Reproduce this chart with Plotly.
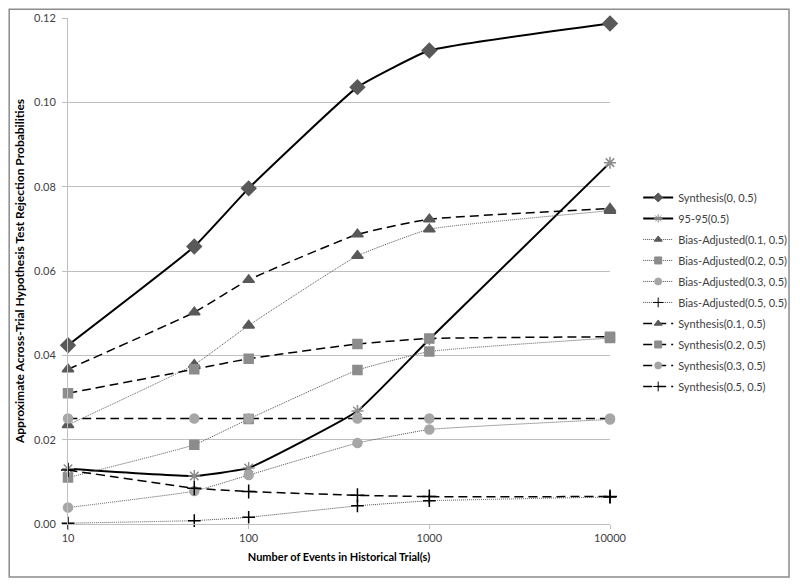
"""Rejection probabilities vs historical trial size."""

import plotly.graph_objects as go

x_events = [10, 50, 100, 400, 1000, 10000]

synthesis_0 = [0.0424, 0.0658, 0.0796, 0.1036, 0.1123, 0.1187]
ninety_five = [0.0131, 0.0114, 0.0133, 0.0268, 0.0438, 0.0857]
bias_01 = [0.0235, 0.0378, 0.0471, 0.0636, 0.0699, 0.0743]
bias_02 = [0.0110, 0.0188, 0.0249, 0.0365, 0.0409, 0.0441]
bias_03 = [0.0039, 0.0078, 0.0116, 0.0192, 0.0224, 0.0248]
bias_05 = [0.0002, 0.0008, 0.0016, 0.0043, 0.0055, 0.0064]
synth_01 = [0.0367, 0.0502, 0.0579, 0.0687, 0.0723, 0.0748]
synth_02 = [0.0310, 0.0367, 0.0392, 0.0427, 0.0440, 0.0444]
synth_03 = [0.0250, 0.0250, 0.0250, 0.0250, 0.0250, 0.0250]
synth_05 = [0.0128, 0.0085, 0.0077, 0.0068, 0.0065, 0.0065]

x_ticks = [10, 100, 1000, 10000]
y_ticks = [0.00, 0.02, 0.04, 0.06, 0.08, 0.10, 0.12]

DARK = "#595959"
MID = "#8c8c8c"
LIGHT = "#a6a6a6"

# name, values, line style, marker symbol, marker colour, marker size
series = [
    ("Synthesis(0, 0.5)", synthesis_0, "solid", "diamond", DARK, 11),
    ("95-95(0.5)", ninety_five, "solid", "asterisk-open", MID, 10),
    ("Bias-Adjusted(0.1, 0.5)", bias_01, "dot", "triangle-up", DARK, 10),
    ("Bias-Adjusted(0.2, 0.5)", bias_02, "dot", "square", MID, 9),
    ("Bias-Adjusted(0.3, 0.5)", bias_03, "dot", "circle", LIGHT, 9),
    ("Bias-Adjusted(0.5, 0.5)", bias_05, "dot", "cross-thin-open", "black", 9),
    ("Synthesis(0.1, 0.5)", synth_01, "dash", "triangle-up", DARK, 10),
    ("Synthesis(0.2, 0.5)", synth_02, "dash", "square", MID, 9),
    ("Synthesis(0.3, 0.5)", synth_03, "dash", "circle", LIGHT, 9),
    ("Synthesis(0.5, 0.5)", synth_05, "dash", "cross-thin-open", "black", 10),
]


def line_for(style):
    if style == "solid":
        return dict(color="black", width=2, dash="solid")
    if style == "dash":
        return dict(color="black", width=1.5, dash="9px,5px")
    return dict(color="#505050", width=1, dash="1px,1px")


fig = go.Figure()
for i, (name, vals, style, symbol, color, size) in enumerate(series):
    fig.add_trace(
        go.Scatter(
            x=x_events,
            y=vals,
            name=name,
            mode="lines+markers",
            line=line_for(style),
            line_shape="spline",
            line_smoothing=0.35,
            marker=dict(
                symbol=symbol,
                size=size,
                color=color,
                line=dict(color=color, width=1.5),
            ),
            cliponaxis=False,
            showlegend=False,
        )
    )
    # legend entry with the smaller Excel-style marker
    fig.add_trace(
        go.Scatter(
            x=[None],
            y=[None],
            name=name,
            mode="lines+markers",
            line=line_for(style),
            marker=dict(
                symbol=symbol,
                size=7,
                color=color,
                line=dict(color=color, width=1),
            ),
            legendgroup=str(i),
        )
    )

fig.update_layout(
    width=800,
    height=584,
    margin=dict(l=60, r=198, t=10, b=68, autoexpand=False),
    paper_bgcolor="white",
    plot_bgcolor="white",
    font=dict(family="Lato, Liberation Sans, sans-serif", size=11, color="#404040"),
    showlegend=True,
    legend=dict(
        x=1.052,
        y=0.674,
        xanchor="left",
        yanchor="top",
        font=dict(size=11, color="#404040"),
        tracegroupgap=2,
        bgcolor="rgba(0,0,0,0)",
    ),
    xaxis=dict(
        type="log",
        range=[1, 4],
        tickvals=x_ticks,
        ticktext=[str(t) for t in x_ticks],
        showgrid=False,
        showline=True,
        linecolor="#bfbfbf",
        ticks="outside",
        tickcolor="#bfbfbf",
        ticklen=4,
        title=dict(
            text="<b>Number of Events in Historical Trial(s)</b>",
            font=dict(size=11, color="black"),
            standoff=10,
        ),
    ),
    yaxis=dict(
        range=[0, 0.12],
        tickvals=y_ticks,
        tickformat=".2f",
        showgrid=True,
        gridcolor="#bfbfbf",
        gridwidth=1,
        showline=True,
        linecolor="#bfbfbf",
        ticks="outside",
        tickcolor="#bfbfbf",
        ticklen=5,
        ticklabelstandoff=4,
        zeroline=False,
        title=dict(
            text="<b>Approximate Across-Trial Hypothesis Test Rejection Probabilities</b>",
            font=dict(size=12, color="black"),
            standoff=6,
        ),
    ),
)

# outer chart border
fig.add_shape(
    type="rect",
    xref="paper",
    yref="paper",
    x0=-0.1085,
    x1=1.3303,
    y0=-0.1047,
    y1=1.0175,
    line=dict(color="#8c8c8c", width=1.5),
    layer="below",
)

fig.write_html("out.html")
